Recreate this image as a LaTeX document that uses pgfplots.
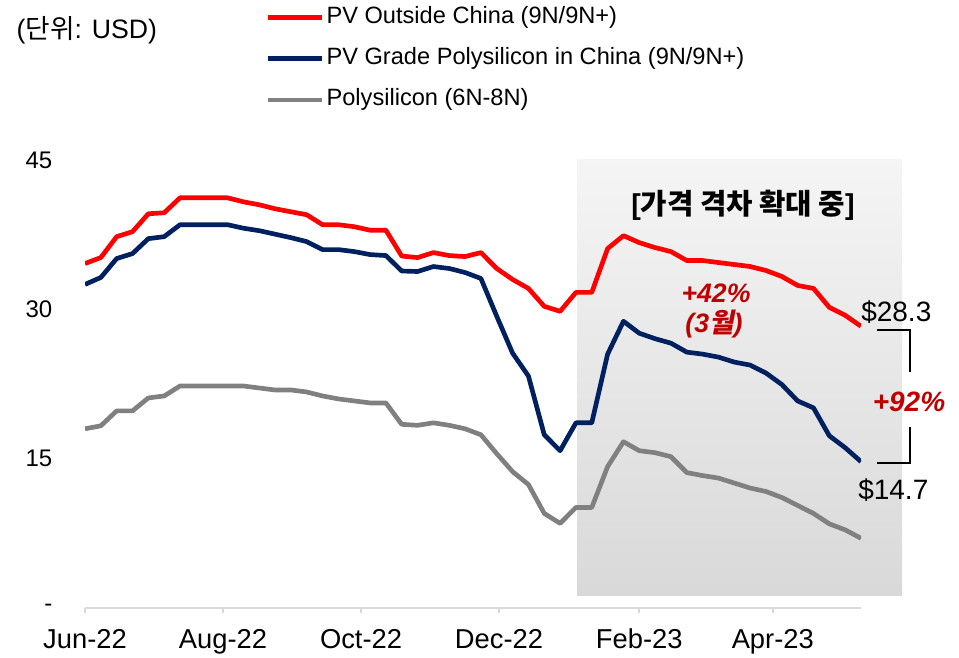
\documentclass[border=0pt]{standalone}
\usepackage{fontspec}
\setmainfont{Liberation Sans}
\newfontfamily\cjk{Noto Sans CJK KR}
\newfontfamily\cjksl{Noto Sans CJK KR}[FakeSlant=0.2]
\usepackage{pgfplots}
\usepackage{pgfplotstable}
\pgfplotsset{compat=1.18}
\definecolor{pvred}{HTML}{FF0000}
\definecolor{pvnavy}{HTML}{002060}
\definecolor{pvgray}{HTML}{808080}
\definecolor{annred}{HTML}{C00000}
\definecolor{axisgray}{HTML}{D9D9D9}

\pgfplotstableread{
i red navy gray
0 34.6 32.5 18.0
1 35.2 33.2 18.3
2 37.3 35.1 19.8
3 37.8 35.6 19.8
4 39.6 37.1 21.1
5 39.7 37.3 21.3
6 41.2 38.5 22.3
7 41.2 38.5 22.3
8 41.2 38.5 22.3
9 41.2 38.5 22.3
10 40.8 38.15 22.3
11 40.5 37.9 22.1
12 40.1 37.55 21.9
13 39.8 37.2 21.9
14 39.5 36.8 21.7
15 38.5 36.0 21.3
16 38.5 36.0 21.0
17 38.3 35.8 20.8
18 37.95 35.5 20.6
19 37.95 35.4 20.6
20 35.35 33.85 18.45
21 35.2 33.8 18.35
22 35.7 34.3 18.6
23 35.4 34.1 18.35
24 35.3 33.7 18.0
25 35.7 33.1 17.4
26 34.1 29.3 15.5
27 33.0 25.6 13.7
28 32.1 23.3 12.4
29 30.3 17.4 9.5
30 29.8 15.8 8.5
31 31.7 18.6 10.1
32 31.7 18.6 10.1
33 36.1 25.5 14.2
34 37.4 28.8 16.7
35 36.7 27.6 15.8
36 36.2 27.05 15.6
37 35.8 26.6 15.2
38 34.9 25.7 13.6
39 34.9 25.5 13.3
40 34.7 25.2 13.05
41 34.5 24.7 12.55
42 34.3 24.4 12.05
43 33.9 23.6 11.7
44 33.3 22.45 11.1
45 32.4 20.8 10.3
46 32.1 20.1 9.5
47 30.2 17.3 8.45
48 29.4 16.1 7.85
49 28.3 14.7 7.0
}\prices

\begin{document}
\begin{tikzpicture}[x=0.75pt,y=0.75pt]
\useasboundingbox (0,0) rectangle (959,657);
\shade[top color=black!4, bottom color=black!15] (577,62) rectangle (902,497);
\begin{axis}[
  at={(63.75pt,36.75pt)}, anchor=south west,
  scale only axis, width=582pt, height=336pt,
  xmin=0, xmax=49, ymin=0, ymax=45,
  axis x line*=bottom, axis y line*=left,
  y axis line style={draw=none},
  x axis line style={axisgray, line width=1.2pt},
  xtick={0,8.714,17.429,26.143,35,43.429},
  xticklabels={Jun-22,Aug-22,Oct-22,Dec-22,Feb-23,Apr-23},
  ytick={0,15,30,45},
  yticklabels={-,15,30,45},
  xtick style={axisgray, line width=1.2pt},
  ytick style={draw=none},
  xtick align=outside, ytick align=inside,
  major tick length=3.75pt,
  tick label style={text=black},
  xticklabel style={font=\fontsize{20.5}{24}\selectfont, yshift=-8.5pt},
  yticklabel style={font=\fontsize{18}{22}\selectfont, xshift=-21pt},
  /pgf/number format/assume math mode=true,
  legend style={at={(0.2268,1.3504)}, anchor=north west, draw=none, fill=none,
    font=\fontsize{17.7}{21}\selectfont, row sep=14pt, column sep=2pt,
    nodes={inner sep=0pt, text height=13pt, text depth=4pt}},
  legend cell align=left,
  legend image code/.code={\draw[#1, line width=3.5pt] (0pt,0pt) -- (40.5pt,0pt);},
  every axis plot/.append style={line width=3.5pt, line join=round},
]
\addplot[pvred] table[x=i,y=red]{\prices};
\addlegendentry{PV Outside China (9N/9N+)}
\addplot[pvnavy] table[x=i,y=navy]{\prices};
\addlegendentry{PV Grade Polysilicon in China (9N/9N+)}
\addplot[pvgray] table[x=i,y=gray]{\prices};
\addlegendentry{Polysilicon (6N-8N)}
\end{axis}
% unit label
\node[anchor=west, font=\fontsize{20}{24}\selectfont] at (12,627) {({\cjk 단위}: USD)};
% annotations
\node[font=\fontsize{21.5}{24}\selectfont\bfseries] at (743,452) {[{\cjk\bfseries 가격 격차 확대 중}]};
\node[font=\fontsize{20}{24}\selectfont\bfseries\itshape, text=annred] at (716,364) {+42\%};
\node[font=\fontsize{20}{24}\selectfont\bfseries\itshape, text=annred] at (714,333) {(3{\cjksl\bfseries 월})};
\node[font=\fontsize{21}{24}\selectfont\bfseries\itshape, text=annred] at (909,255) {+92\%};
\node[anchor=west, font=\fontsize{21}{24}\selectfont, inner sep=0pt] at (861,345) {\$28.3};
\node[anchor=west, font=\fontsize{21}{24}\selectfont, inner sep=0pt] at (858,167) {\$14.7};
\draw[line width=1.5pt] (877,327) -- (910,327) -- (910,285);
\draw[line width=1.5pt] (910,230) -- (910,194) -- (877,194);
\end{tikzpicture}
\end{document}
